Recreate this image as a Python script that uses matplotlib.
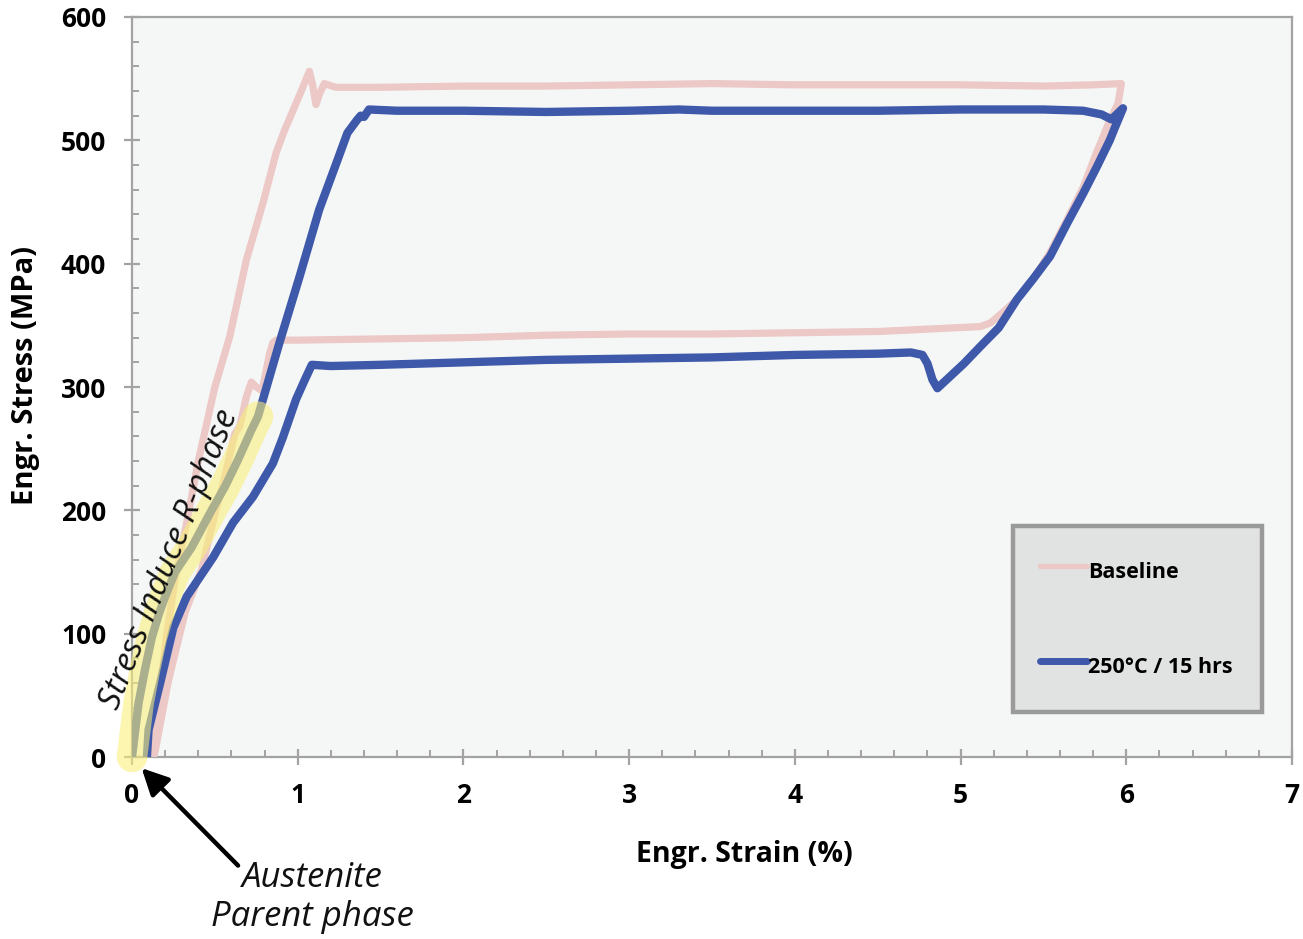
import matplotlib
matplotlib.use("Agg")
import matplotlib.pyplot as plt
from matplotlib.ticker import MultipleLocator

# ---------------- data ----------------
baseline_strain = [0.12, 0.17, 0.21, 0.26, 0.33, 0.40, 0.50, 0.59, 0.69, 0.79, 0.87,
                   0.92, 0.99, 1.04, 1.07, 1.09, 1.11, 1.13, 1.16, 1.23, 1.5, 2.0,
                   2.5, 3.0, 3.5, 4.0, 4.5, 5.0, 5.5, 5.8, 5.97,
                   5.95, 5.90, 5.82, 5.74, 5.64, 5.54, 5.44, 5.34, 5.25, 5.18,
                   5.12, 4.5, 4.0, 3.5, 3.0, 2.5, 2.0, 1.5, 1.0, 0.87, 0.85, 0.83,
                   0.785, 0.75, 0.72, 0.69, 0.65, 0.62, 0.55, 0.48, 0.42, 0.32,
                   0.22, 0.14, 0.13]
baseline_stress = [0, 55, 100, 144, 190, 240, 300, 341, 403, 449, 490,
                   508, 530, 546, 556, 545, 529, 537, 546, 543, 543, 544,
                   544, 545, 546, 545, 545, 545, 544, 545, 546,
                   530, 516, 490, 462, 435, 409, 388, 371, 360, 352,
                   349, 345, 344, 343, 343, 342, 340, 339, 338, 338, 336, 327,
                   297, 300, 304, 292, 268, 262, 222, 186, 152, 117,
                   62, 5, 0]

aged_strain = [0.0, 0.02, 0.04, 0.08, 0.12, 0.16, 0.20, 0.26, 0.36, 0.48, 0.56,
               0.64, 0.72, 0.76, 0.89, 1.01, 1.13, 1.24, 1.30, 1.355, 1.38,
               1.40, 1.43, 1.6, 2.0, 2.5, 3.0, 3.3, 3.5, 4.0, 4.5, 5.0, 5.5,
               5.74, 5.85, 5.91, 5.98,
               5.93, 5.90, 5.82, 5.74, 5.64, 5.54, 5.44, 5.34, 5.23, 5.12,
               5.02, 4.94, 4.86, 4.83, 4.80, 4.77, 4.70, 4.5, 4.0, 3.5, 3.0,
               2.5, 2.0, 1.5, 1.2, 1.085, 1.04, 0.99, 0.91, 0.85, 0.73, 0.61,
               0.49, 0.41, 0.33, 0.25, 0.17, 0.10, 0.09]
aged_stress = [0, 22, 44, 72, 97, 115, 130, 150, 170, 200, 219,
               241, 265, 276, 336, 389, 444, 484, 506, 516, 520,
               519, 525, 524, 524, 523, 524, 525, 524, 524, 524, 525, 525,
               524, 521, 517, 526,
               510, 500, 478, 457, 432, 406, 388, 371, 348, 333,
               319, 309, 299, 306, 319, 326, 328, 327, 326, 324, 323,
               322, 320, 318, 317, 318, 305, 290, 259, 238, 211, 190,
               162, 146, 130, 105, 60, 22, 0]

# leading points of the aged loading curve that form the highlighted R-phase segment
rphase_points = 14

series_labels = ["Baseline", "250°C / 15 hrs"]
x_ticks = [0, 1, 2, 3, 4, 5, 6, 7]
y_ticks = [0, 100, 200, 300, 400, 500, 600]
x_label = "Engr. Strain (%)"
y_label = "Engr. Stress (MPa)"
rphase_text = "Stress Induce R-phase"
austenite_text = "Austenite\nParent phase"

# ---------------- styling ----------------
plt.rcParams['font.family'] = ['Open Sans', 'DejaVu Sans']
pink = '#ECC8C6'
blue = '#3E58AA'
spine_gray = '#A3A3A3'

fig = plt.figure(figsize=(13.03, 9.39), dpi=100)
ax = fig.add_axes([0.1013, 0.1938, 0.8903, 0.7881])
ax.set_facecolor('#F5F7F6')

ax.plot(baseline_strain, baseline_stress, color=pink, lw=5.2,
        solid_joinstyle='round', solid_capstyle='round', label=series_labels[0], zorder=3)
ax.plot(aged_strain, aged_stress, color=blue, lw=6.0,
        solid_joinstyle='round', solid_capstyle='round', label=series_labels[1], zorder=4)

# yellow translucent highlight over the R-phase segment
ax.plot(aged_strain[:rphase_points], aged_stress[:rphase_points], color='#FAF078',
        alpha=0.58, lw=22, solid_capstyle='round', solid_joinstyle='round',
        zorder=5, clip_on=False)

ax.set_xlim(0, 7)
ax.set_ylim(0, 600)
ax.set_xticks(x_ticks)
ax.set_yticks(y_ticks)
ax.set_xticklabels([str(t) for t in x_ticks], fontweight='bold', fontsize=19)
ax.set_yticklabels([str(t) for t in y_ticks], fontweight='bold', fontsize=19)
ax.xaxis.set_minor_locator(MultipleLocator(0.2))
ax.yaxis.set_minor_locator(MultipleLocator(20))
ax.tick_params(which='major', direction='inout', length=11, width=1.6,
               color=spine_gray, labelcolor='black')
ax.tick_params(axis='x', which='major', pad=12.5)
ax.tick_params(axis='y', which='major', pad=13)
ax.tick_params(which='minor', direction='in', length=5, width=1.4, color=spine_gray)

for s in ax.spines.values():
    s.set_color(spine_gray)
    s.set_linewidth(1.6)

ax.set_xlabel(x_label, fontweight='bold', fontsize=20.5)
ax.set_ylabel(y_label, fontweight='bold', fontsize=21)
ax.xaxis.set_label_coords(0.528, -0.112)
ax.yaxis.set_label_coords(-0.079, 0.516)

leg = ax.legend(loc='center', bbox_to_anchor=(0.7595, 0.0595, 0.2146, 0.2540),
                mode='expand', prop={'weight': 'bold', 'size': 15.5},
                frameon=True, fancybox=False, framealpha=1, facecolor='#E1E2E2',
                edgecolor='#9A9A9A', borderpad=1.25, labelspacing=2.75,
                handleheight=2.2, handlelength=2.2, handletextpad=0.05,
                borderaxespad=0)
leg.get_frame().set_linewidth(3.2)
lines = leg.get_lines()
lines[0].set_linewidth(3.8)
lines[1].set_linewidth(5.0)
for ln in lines:
    ln.set_solid_capstyle('round')

# annotations
ax.text(0.225, 160, rphase_text, rotation=68, ha='center', va='center',
        fontsize=24, style='italic', color='#111111', zorder=6,
        rotation_mode='anchor')
ax.text(1.086, -114, austenite_text, ha='center', va='center', fontsize=25,
        style='italic', color='#111111', linespacing=1.2,
        multialignment='center', clip_on=False)
ax.annotate('', xy=(0.058, -9), xytext=(0.64, -88), annotation_clip=False,
            arrowprops=dict(arrowstyle='-|>', lw=3.2, color='black',
                            mutation_scale=40, shrinkA=0, shrinkB=0))

fig.savefig('out.png', dpi=100, facecolor='white')
